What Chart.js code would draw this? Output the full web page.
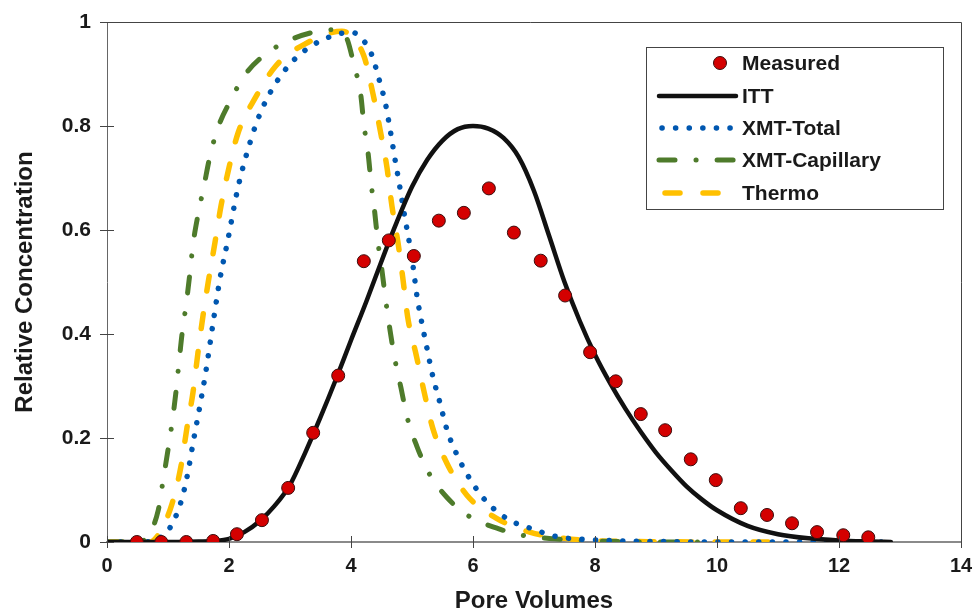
<!DOCTYPE html>
<html>
<head>
<meta charset="utf-8">
<script src="https://cdn.jsdelivr.net/npm/chart.js@4"></script>
<style>
  html, body { margin: 0; padding: 0; background: #fff; }
  #wrap { width: 974px; height: 613px; }
</style>
</head>
<body>
<div id="wrap"><canvas id="chart" width="974" height="613"></canvas></div>
<script>
// measured breakthrough points
const measuredX = [0.49, 0.89, 1.30, 1.74, 2.13, 2.54, 2.97, 3.38, 3.79, 4.21, 4.62, 5.03, 5.44, 5.85, 6.26,
  6.67, 7.11, 7.51, 7.92, 8.34, 8.75, 9.15, 9.57, 9.98, 10.39, 10.82, 11.23, 11.64, 12.07, 12.48];
const measuredY = [0, 0, 0, 0.002, 0.015, 0.042, 0.104, 0.21, 0.32, 0.54, 0.58, 0.55, 0.618, 0.633, 0.68,
  0.595, 0.541, 0.474, 0.365, 0.309, 0.246, 0.215, 0.159, 0.119, 0.065, 0.052, 0.036, 0.019, 0.013, 0.009];

// ITT model
const ittX = [0, 0.5, 1.0, 1.5, 1.75, 2.0, 2.25, 2.5, 2.75, 3.0, 3.25, 3.5, 3.75, 4.0, 4.25, 4.5, 4.75, 5.0,
  5.25, 5.5, 5.75, 6.0, 6.25, 6.5, 6.75, 7.0, 7.25, 7.5, 7.75, 8.0, 8.25, 8.5, 8.75, 9.0, 9.25, 9.5, 9.75,
  10.0, 10.5, 11.0, 11.5, 12.0, 12.5, 12.85];
const ittY = [0, 0, 0, 0.001, 0.002, 0.006, 0.019, 0.04, 0.07, 0.11, 0.172, 0.24, 0.312, 0.388, 0.462, 0.54,
  0.615, 0.683, 0.735, 0.772, 0.794, 0.80, 0.795, 0.777, 0.74, 0.675, 0.588, 0.5, 0.425, 0.36, 0.305, 0.256,
  0.212, 0.172, 0.138, 0.107, 0.082, 0.061, 0.031, 0.015, 0.007, 0.003, 0.001, 0];

// XMT-Total
const totalX = [0, 0.6, 0.8, 0.92, 1.07, 1.23, 1.33, 1.41, 1.52, 1.61, 1.74, 1.85, 1.98, 2.15, 2.39, 2.55,
  2.76, 3.03, 3.38, 3.80, 4.02, 4.20, 4.33, 4.46, 4.57, 4.65, 4.72, 4.80, 4.87, 4.95, 5.02, 5.08, 5.16,
  5.25, 5.34, 5.46, 5.57, 5.74, 5.95, 6.21, 6.57, 6.98, 7.39, 8.0, 9.0, 10.0, 12.85];
const totalY = [0, 0, 0.004, 0.013, 0.035, 0.084, 0.136, 0.19, 0.26, 0.32, 0.422, 0.505, 0.58, 0.683, 0.785,
  0.835, 0.881, 0.923, 0.956, 0.977, 0.98, 0.965, 0.94, 0.89, 0.84, 0.787, 0.737, 0.683, 0.633, 0.58, 0.528,
  0.474, 0.422, 0.37, 0.319, 0.267, 0.217, 0.167, 0.121, 0.079, 0.044, 0.025, 0.01, 0.004, 0.001, 0, 0];

// XMT-Capillary
const capX = [0, 0.5, 0.66, 0.84, 0.92, 1.0, 1.07, 1.13, 1.18, 1.23, 1.30, 1.36, 1.41, 1.49, 1.59, 1.69,
  1.82, 2.02, 2.26, 2.61, 3.03, 3.49, 3.70, 3.92, 4.05, 4.16, 4.21, 4.28, 4.33, 4.39, 4.44, 4.51, 4.57,
  4.64, 4.72, 4.82, 4.92, 5.08, 5.28, 5.57, 5.93, 6.38, 6.85, 7.34, 8.0, 9.0, 9.8];
const capY = [0, 0, 0.01, 0.061, 0.119, 0.177, 0.232, 0.288, 0.345, 0.40, 0.459, 0.518, 0.572, 0.628, 0.685,
  0.743, 0.797, 0.848, 0.898, 0.939, 0.967, 0.983, 0.985, 0.971, 0.917, 0.86, 0.804, 0.748, 0.69, 0.633,
  0.578, 0.52, 0.464, 0.407, 0.351, 0.296, 0.24, 0.184, 0.132, 0.086, 0.05, 0.027, 0.012, 0.006, 0.002, 0, 0];

// Thermo
const thermoX = [0, 0.7, 0.87, 1.07, 1.21, 1.31, 1.41, 1.49, 1.57, 1.66, 1.77, 1.87, 2.0, 2.15, 2.43, 2.77,
  3.25, 3.85, 4.21, 4.36, 4.48, 4.59, 4.67, 4.77, 4.85, 4.93, 5.07, 5.20, 5.34, 5.57, 5.90, 6.38, 6.93,
  7.5, 8.5, 10.9];
const thermoY = [0, 0, 0.019, 0.075, 0.144, 0.219, 0.288, 0.363, 0.432, 0.50, 0.576, 0.647, 0.72, 0.787,
  0.854, 0.916, 0.958, 0.982, 0.935, 0.862, 0.791, 0.72, 0.647, 0.576, 0.507, 0.432, 0.359, 0.288, 0.219,
  0.152, 0.09, 0.046, 0.019, 0.007, 0.001, 0];

const xTicks = [0, 2, 4, 6, 8, 10, 12, 14];
const yTicks = [0, 0.2, 0.4, 0.6, 0.8, 1];

const FONT = "'Liberation Sans', Arial, sans-serif";

function pts(xs, ys) {
  return xs.map((x, i) => ({ x: x, y: ys[i] }));
}

function curve(label, xs, ys, color, width, dash) {
  return {
    label: label,
    data: pts(xs, ys),
    showLine: true,
    borderColor: color,
    backgroundColor: color,
    borderWidth: width,
    borderDash: dash,
    borderCapStyle: 'round',
    cubicInterpolationMode: 'monotone',
    pointRadius: 0,
    pointHoverRadius: 0
  };
}

const datasets = [
  {
    label: 'Measured',
    data: pts(measuredX, measuredY),
    showLine: false,
    pointRadius: 6.5,
    pointBackgroundColor: '#d40000',
    pointBorderColor: '#3b0d0d',
    pointBorderWidth: 1
  },
  curve('ITT', ittX, ittY, '#111111', 4.5, []),
  curve('XMT-Total', totalX, totalY, '#0057b0', 5.5, [0.1, 13.5]),
  curve('XMT-Capillary', capX, capY, '#4e7b2b', 5, [16, 21, 0.1, 21]),
  curve('Thermo', thermoX, thermoY, '#ffc000', 5.5, [15, 23])
];

// crossing tick marks plus top/right frame
const framePlugin = {
  id: 'frame',
  afterDraw(chart) {
    const ctx = chart.ctx;
    const a = chart.chartArea;
    const xs = chart.scales.x, ys = chart.scales.y;
    ctx.save();
    ctx.strokeStyle = '#444';
    ctx.lineWidth = 1;
    ctx.beginPath();
    ctx.moveTo(a.left - 7, a.top + 0.5);
    ctx.lineTo(a.right + 0.5, a.top + 0.5);
    ctx.lineTo(a.right + 0.5, a.bottom);
    ctx.stroke();
    ctx.beginPath();
    yTicks.forEach(v => {
      const py = Math.round(ys.getPixelForValue(v)) + 0.5;
      ctx.moveTo(a.left - 7, py);
      ctx.lineTo(a.left + 7, py);
    });
    xTicks.forEach(v => {
      const px = Math.round(xs.getPixelForValue(v)) + 0.5;
      ctx.moveTo(px, a.bottom - 6);
      ctx.lineTo(px, a.bottom + 6);
    });
    ctx.stroke();
    ctx.restore();
  }
};

// legend box inside the plot
const legendPlugin = {
  id: 'boxLegend',
  afterDraw(chart) {
    const ctx = chart.ctx;
    const box = { x: 646, y: 47, w: 297, h: 162 };
    ctx.save();
    ctx.fillStyle = '#fff';
    ctx.fillRect(box.x, box.y, box.w, box.h);
    ctx.strokeStyle = '#444';
    ctx.lineWidth = 1;
    ctx.strokeRect(box.x + 0.5, box.y + 0.5, box.w, box.h);

    const rows = [63, 96, 128, 160, 193];
    ctx.font = 'bold 21px ' + FONT;
    ctx.textBaseline = 'middle';
    ctx.textAlign = 'left';
    chart.data.datasets.forEach((ds, i) => {
      const y = rows[i];
      if (ds.showLine) {
        ctx.beginPath();
        ctx.strokeStyle = ds.borderColor;
        ctx.lineWidth = ds.borderWidth;
        ctx.lineCap = 'round';
        ctx.setLineDash(ds.borderDash);
        const x0 = i === 2 ? 662 : (i === 4 ? 665 : 659);
        ctx.moveTo(x0, y);
        ctx.lineTo(i === 1 ? 736 : 734, y);
        ctx.stroke();
        ctx.setLineDash([]);
      } else {
        ctx.beginPath();
        ctx.arc(720, y, ds.pointRadius, 0, Math.PI * 2);
        ctx.fillStyle = ds.pointBackgroundColor;
        ctx.fill();
        ctx.lineWidth = ds.pointBorderWidth;
        ctx.strokeStyle = ds.pointBorderColor;
        ctx.stroke();
      }
      ctx.fillStyle = '#1a1a1a';
      ctx.fillText(ds.label, 742, y + 1);
    });
    ctx.restore();
  }
};

new Chart(document.getElementById('chart'), {
  type: 'scatter',
  data: { datasets: datasets },
  options: {
    responsive: false,
    animation: false,
    events: [],
    layout: { padding: { left: 0, right: 13, top: 22, bottom: 0 } },
    plugins: {
      legend: { display: false },
      tooltip: { enabled: false },
      title: { display: false }
    },
    scales: {
      x: {
        type: 'linear',
        min: 0,
        max: 14,
        afterBuildTicks: s => { s.ticks = xTicks.map(v => ({ value: v })); },
        afterFit: s => { s.height = 71; s.paddingLeft = 0; s.paddingRight = 0; },
        grid: { display: false, drawTicks: false },
        border: { display: true, color: '#8a8a8a', width: 2 },
        ticks: { padding: 12, color: '#1a1a1a', font: { family: FONT, size: 20, weight: 'bold' } },
        title: {
          display: true,
          text: 'Pore Volumes',
          color: '#1a1a1a',
          padding: { top: 0, bottom: 0 },
          font: { family: FONT, size: 24, weight: 'bold', lineHeight: 1 }
        }
      },
      y: {
        type: 'linear',
        min: 0,
        max: 1,
        afterBuildTicks: s => { s.ticks = yTicks.map(v => ({ value: v })); },
        afterFit: s => { s.width = 107; s.paddingTop = 0; s.paddingBottom = 0; },
        grid: { display: false, drawTicks: false },
        border: { display: true, color: '#666', width: 1 },
        ticks: {
          padding: 16,
          color: '#1a1a1a',
          font: { family: FONT, size: 21, weight: 'bold' },
          callback: v => String(Math.round(v * 10) / 10)
        },
        title: {
          display: true,
          text: 'Relative Concentration',
          color: '#1a1a1a',
          padding: { top: 13, bottom: 0 },
          font: { family: FONT, size: 24, weight: 'bold', lineHeight: 1 }
        }
      }
    }
  },
  plugins: [framePlugin, legendPlugin]
});
</script>
</body>
</html>
